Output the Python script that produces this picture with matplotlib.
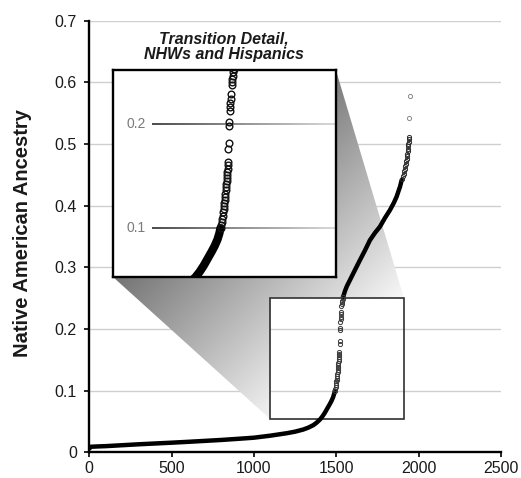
import numpy as np
import matplotlib
matplotlib.use('Agg')
import matplotlib.pyplot as plt
from matplotlib.patches import Polygon, Rectangle
from matplotlib.collections import LineCollection
from matplotlib.colors import LinearSegmentedColormap
import matplotlib.transforms as mtransforms

plt.rcParams['font.family'] = ['Liberation Sans', 'DejaVu Sans']

# ---------------- data (rank of individual, Native American ancestry) ----------------
low_rank = [0, 10, 50, 100, 200, 300, 400, 500, 600, 700, 800, 900, 1000, 1100,
            1150, 1200, 1250, 1300, 1330, 1360, 1380, 1400, 1415, 1430, 1445, 1460,
            1470, 1480, 1487, 1491]
low_val = [0.006, 0.009, 0.0095, 0.010, 0.0115, 0.013, 0.0143, 0.0156, 0.017, 0.0185,
           0.020, 0.0218, 0.0237, 0.027, 0.029, 0.031, 0.0335, 0.037, 0.040, 0.044,
           0.048, 0.053, 0.058, 0.064, 0.071, 0.078, 0.083, 0.089, 0.095, 0.100]

mid_rank = [1492, 1494, 1496, 1497, 1499, 1500, 1502, 1503, 1505, 1506, 1508, 1509,
            1510, 1511, 1512, 1513, 1514, 1515, 1516, 1517, 1518, 1519, 1520, 1521,
            1522, 1523, 1525, 1526, 1527, 1528, 1529, 1531, 1532, 1534, 1536, 1538, 1540]
mid_val = [0.100, 0.103, 0.106, 0.109, 0.112, 0.115, 0.118, 0.121, 0.124, 0.127,
           0.130, 0.133, 0.136, 0.139, 0.142, 0.145, 0.148, 0.151, 0.154, 0.157,
           0.160, 0.163, 0.176, 0.181, 0.198, 0.2015, 0.212, 0.216, 0.220, 0.224,
           0.228, 0.237, 0.240, 0.243, 0.246, 0.249, 0.252]

high_rank = [1540, 1545, 1553, 1565, 1583, 1610, 1644, 1675, 1704, 1735, 1765, 1795,
             1826, 1850, 1866, 1887, 1897]
high_val = [0.252, 0.255, 0.262, 0.270, 0.2795, 0.294, 0.312, 0.328, 0.344, 0.356,
            0.366, 0.380, 0.393, 0.405, 0.4145, 0.431, 0.4416]

top_rank = [1900, 1905, 1909, 1913, 1916, 1919, 1922, 1925, 1928, 1930, 1932, 1934,
            1936, 1937, 1938, 1939, 1940, 1941]
top_val = [0.444, 0.448, 0.452, 0.456, 0.460, 0.464, 0.468, 0.472, 0.476, 0.480,
           0.484, 0.488, 0.492, 0.496, 0.500, 0.504, 0.508, 0.512]

outlier_rank = [1943, 1945]
outlier_val = [0.543, 0.578]

x_ticks = [0, 500, 1000, 1500, 2000, 2500]
y_ticks = [0, 0.1, 0.2, 0.3, 0.4, 0.5, 0.6, 0.7]
y_ticklabels = ['0', '0.1', '0.2', '0.3', '0.4', '0.5', '0.6', '0.7']
inset_ticks = [0.1, 0.2]

ylabel = 'Native American Ancestry'
inset_title = 'Transition Detail,\nNHWs and Hispanics'

# zoom region (data coords) and inset placement (data coords)
zoom_x = (1100, 1910)
zoom_y = (0.0535, 0.251)
inset_x = (142, 1498)
inset_y = (0.2848, 0.6195)

# ---------------- figure ----------------
W, H = 521, 478
fig = plt.figure(figsize=(W / 100, H / 100), dpi=100)
ax = fig.add_axes([89.3 / W, 1 - 452.3 / H, (501 - 89.3) / W, (452.3 - 20.7) / H])
ax.set_xlim(0, 2500)
ax.set_ylim(0, 0.7)

for s in ['top', 'right']:
    ax.spines[s].set_visible(False)
for s in ['left', 'bottom']:
    ax.spines[s].set_linewidth(1.7)
    ax.spines[s].set_color('black')
ax.set_xticks(x_ticks)
ax.set_yticks(y_ticks)
ax.set_yticklabels(y_ticklabels)
ax.tick_params(axis='both', direction='out', length=3.5, width=1.2, labelsize=11.5,
               labelcolor='#1a1a1a')
ax.tick_params(axis='y', pad=5.5)
ax.tick_params(axis='x', pad=2.5)
ax.yaxis.grid(True, color='#cfcfcf', linewidth=1.0)
ax.set_axisbelow(True)

fig.text(23 / W, 1 - 233 / H, ylabel, rotation=90, ha='center', va='center',
         fontsize=14.5, fontweight='bold', color='#1a1a1a')

# ---------------- gradient shading between inset and zoom box ----------------
poly_pts = [(inset_x[0], inset_y[0]), (inset_x[1], inset_y[0]), (inset_x[1], inset_y[1]),
            (zoom_x[1], zoom_y[1]), (zoom_x[0], zoom_y[1]), (zoom_x[0], zoom_y[0])]
clip_patch = Polygon(poly_pts, closed=True, facecolor='none', edgecolor='none',
                     transform=ax.transData)
ax.add_patch(clip_patch)

gx = np.linspace(inset_x[0], zoom_x[1], 500)
gy = np.linspace(zoom_y[0], inset_y[1], 500)
GX, GY = np.meshgrid(gx, gy)
disp = ax.transData.transform(np.column_stack([GX.ravel(), GY.ravel()]))
t = disp[:, 0] - disp[:, 1]
vdisp = ax.transData.transform(np.array(poly_pts))
tv = vdisp[:, 0] - vdisp[:, 1]
tn = np.clip((t - tv.min()) / (tv.max() - tv.min()), 0, 1).reshape(GX.shape)
shade_cmap = LinearSegmentedColormap.from_list('shade', ['#727272', '#f8f8f8'])
im = ax.imshow(tn, origin='lower', extent=[gx[0], gx[-1], gy[0], gy[-1]],
               cmap=shade_cmap, vmin=0, vmax=1, aspect='auto', zorder=1,
               interpolation='bilinear')
im.set_clip_path(clip_patch)
ax.set_xlim(0, 2500)
ax.set_ylim(0, 0.7)

ax.add_patch(Rectangle((zoom_x[0], zoom_y[0]), zoom_x[1] - zoom_x[0], zoom_y[1] - zoom_y[0],
                       facecolor='none', edgecolor='#303030', linewidth=1.2, zorder=2))

# ---------------- data in main axes ----------------
mk = dict(marker='o', mfc='none', ms=3.0, mew=0.7)
ax.plot(low_rank, low_val, color='black', lw=3.2, solid_capstyle='round', zorder=3)
ax.plot(high_rank, high_val, color='black', lw=3.2, solid_capstyle='round', zorder=3)
ax.plot(mid_rank, mid_val, ls='none', mec='#3a3a3a', zorder=3, **mk)
ax.plot(top_rank, top_val, ls='none', mec='#2a2a2a', zorder=3, **mk)
ax.plot(outlier_rank, outlier_val, ls='none', mec='#8a8a8a', zorder=3, **mk)

# ---------------- inset ----------------
axins = ax.inset_axes([inset_x[0], inset_y[0], inset_x[1] - inset_x[0],
                       inset_y[1] - inset_y[0]], transform=ax.transData, zorder=5)
axins.set_xlim(*zoom_x)
axins.set_ylim(*zoom_y)
axins.set_xticks([])
axins.set_yticks([])
axins.set_facecolor('white')
for s in axins.spines.values():
    s.set_linewidth(1.7)
    s.set_color('black')

line_cmap = LinearSegmentedColormap.from_list('gl', ['#3c3c3c', '#d5d5d5'])
trans = mtransforms.blended_transform_factory(axins.transAxes, axins.transData)
for yv in inset_ticks:
    xs = np.linspace(0.175, 1.0, 80)
    segs = [[(xs[i], yv), (xs[i + 1], yv)] for i in range(len(xs) - 1)]
    cols = line_cmap(np.linspace(0, 1, len(segs)))
    axins.add_collection(LineCollection(segs, colors=cols, linewidths=1.3,
                                        transform=trans, zorder=1))
    axins.text(0.148, yv, f'{yv:.1f}', transform=trans, ha='right', va='center',
               color='#7a7a7a', fontsize=10)

mki = dict(marker='o', mfc='none', ms=4.8, mew=1.0, mec='#111111')
axins.plot(low_rank, low_val, color='black', lw=6.0, solid_capstyle='round', zorder=3)
axins.plot(mid_rank, mid_val, ls='none', zorder=3, **mki)
axins.plot(high_rank, high_val, ls='none', zorder=3, **mki)

axins.set_title(inset_title, fontsize=11.5, fontweight='bold', fontstyle='italic',
                pad=8, linespacing=1.05, color='#1a1a1a')

fig.savefig('out.png', dpi=100)
